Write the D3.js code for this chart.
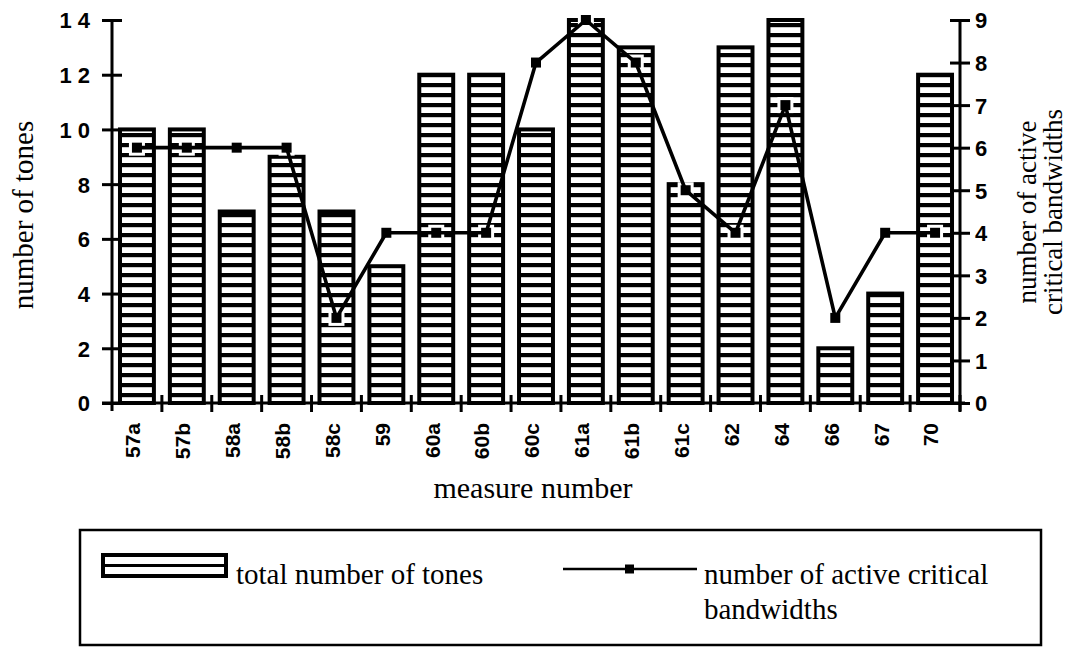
<!DOCTYPE html>
<html>
<head>
<meta charset="utf-8">
<script src="https://cdn.jsdelivr.net/npm/d3@7"></script>
<style>
  html, body { margin: 0; padding: 0; background: #fff; }
  svg { display: block; }
</style>
</head>
<body>
<svg id="chart" width="1076" height="647"></svg>
<script>
// measures and their counts
const measures = ["57a","57b","58a","58b","58c","59","60a","60b","60c","61a","61b","61c","62","64","66","67","70"];
const totalTones = [10,10,7,9,7,5,12,12,10,14,13,8,13,14,2,4,12];
const activeBands = [6,6,6,6,2,4,4,4,8,9,8,5,4,7,2,4,4];
const leftTicks = [0,2,4,6,8,10,12,14];
const rightTicks = [0,1,2,3,4,5,6,7,8,9];

const svg = d3.select("#chart");
const serif = "'Liberation Serif', 'Times New Roman', serif";
const sans = "'Liberation Sans', Arial, sans-serif";

const plot = { left: 112, right: 960, top: 20, bottom: 403 };

const x = d3.scaleBand().domain(measures).range([plot.left, plot.right]).paddingInner(0.32).paddingOuter(0.16);
const xb = d3.scaleBand().domain(measures).range([plot.left, plot.right]);
const yL = d3.scaleLinear().domain([0, 14]).range([plot.bottom, plot.top]);
const yR = d3.scaleLinear().domain([0, 9]).range([plot.bottom, plot.top]);

// horizontal stripe fill for the bars
const defs = svg.append("defs");
const pat = defs.append("pattern")
  .attr("id", "stripes")
  .attr("patternUnits", "userSpaceOnUse")
  .attr("width", 10).attr("height", 10)
  .attr("patternTransform", `translate(0,${plot.bottom})`);
pat.append("rect").attr("width", 10).attr("height", 10).attr("fill", "#fff");
pat.append("rect").attr("y", 0).attr("width", 10).attr("height", 4.2).attr("fill", "#000");

// bars
svg.append("g").selectAll("rect").data(measures).join("rect")
  .attr("x", d => x(d))
  .attr("width", x.bandwidth())
  .attr("y", (d, i) => yL(totalTones[i]))
  .attr("height", (d, i) => plot.bottom - yL(totalTones[i]))
  .attr("fill", "url(#stripes)")
  .attr("stroke", "#000")
  .attr("stroke-width", 4);

// critical-band line
const pts = measures.map((d, i) => [xb(d) + xb.bandwidth() / 2, yR(activeBands[i])]);

svg.append("g").selectAll("rect").data(pts).join("rect")
  .attr("x", p => p[0] - 8).attr("y", p => p[1] - 8)
  .attr("width", 16).attr("height", 16)
  .attr("fill", "#fff");

svg.append("path")
  .attr("d", d3.line()(pts))
  .attr("fill", "none")
  .attr("stroke", "#000")
  .attr("stroke-width", 3.6)
  .attr("stroke-linejoin", "round");

svg.append("g").selectAll("rect").data(pts).join("rect")
  .attr("x", p => p[0] - 5).attr("y", p => p[1] - 5)
  .attr("width", 10).attr("height", 10)
  .attr("fill", "#000");

// axes
const axisStroke = 3;
const leftAxis = d3.axisLeft(yL).tickValues(leftTicks).tickSizeOuter(0).tickPadding(0)
  .tickFormat(d => d >= 10 ? String(d).split("").join(" ") : d);
const gL = svg.append("g").attr("transform", `translate(${plot.left},0)`).call(leftAxis);
gL.select(".domain").remove();
gL.selectAll(".tick line").attr("x1", -10).attr("x2", 10).attr("stroke-width", axisStroke);
gL.selectAll(".tick text").attr("x", -22).attr("dy", "0.36em")
  .attr("font-family", sans).attr("font-weight", "bold").attr("font-size", 22).attr("fill", "#000");
gL.append("line").attr("x1", 0).attr("x2", 0).attr("y1", plot.top).attr("y2", plot.bottom + 8)
  .attr("stroke", "#000").attr("stroke-width", axisStroke);

const rightAxis = d3.axisRight(yR).tickValues(rightTicks).tickSizeOuter(0).tickPadding(0);
const gR = svg.append("g").attr("transform", `translate(${plot.right},0)`).call(rightAxis);
gR.select(".domain").remove();
gR.selectAll(".tick line").attr("x1", -10).attr("x2", 10).attr("stroke-width", axisStroke);
gR.selectAll(".tick text").attr("x", 15).attr("dy", "0.36em")
  .attr("font-family", sans).attr("font-weight", "bold").attr("font-size", 22).attr("fill", "#000");
gR.append("line").attr("x1", 0).attr("x2", 0).attr("y1", plot.top).attr("y2", plot.bottom + 8)
  .attr("stroke", "#000").attr("stroke-width", axisStroke);

const bottomAxis = d3.axisBottom(xb).tickSize(0).tickPadding(0);
const gB = svg.append("g").attr("transform", `translate(0,${plot.bottom})`).call(bottomAxis);
gB.select(".domain").remove();
gB.append("line").attr("x1", plot.left - 10).attr("x2", plot.right + 5).attr("y1", 0).attr("y2", 0)
  .attr("stroke", "#000").attr("stroke-width", axisStroke);
gB.selectAll(".tick text")
  .attr("transform", "rotate(-90)")
  .attr("x", -20).attr("y", -4).attr("dy", "0.35em")
  .attr("text-anchor", "end")
  .attr("font-family", sans).attr("font-weight", "bold").attr("font-size", 21).attr("fill", "#000");
// separator ticks between measures
gB.append("g").selectAll("line").data(measures.slice(1).concat(["_end"])).join("line")
  .attr("x1", (d, i) => plot.left + (i + 1) * xb.step())
  .attr("x2", (d, i) => plot.left + (i + 1) * xb.step())
  .attr("y1", -8).attr("y2", 9)
  .attr("stroke", "#000").attr("stroke-width", axisStroke);

// axis titles
svg.append("text")
  .attr("transform", `translate(33,215) rotate(-90)`)
  .attr("text-anchor", "middle")
  .attr("font-family", serif).attr("font-size", 29)
  .text("number of tones");

svg.append("text")
  .attr("x", 533).attr("y", 498)
  .attr("text-anchor", "middle")
  .attr("font-family", serif).attr("font-size", 30)
  .text("measure number");

const rt = svg.append("text")
  .attr("transform", `translate(1036,212) rotate(-90)`)
  .attr("text-anchor", "middle")
  .attr("font-family", serif).attr("font-size", 27);
rt.append("tspan").attr("x", 0).attr("dy", 0).text("number of active");
rt.append("tspan").attr("x", 0).attr("dy", 26).text("critical bandwidths");

// legend
const leg = svg.append("g");
leg.append("rect")
  .attr("x", 80).attr("y", 530).attr("width", 961).attr("height", 115)
  .attr("fill", "none").attr("stroke", "#000").attr("stroke-width", 2.5);

leg.append("rect")
  .attr("x", 103).attr("y", 555).attr("width", 123).attr("height", 21)
  .attr("fill", "#fff").attr("stroke", "#000").attr("stroke-width", 4);
leg.append("line")
  .attr("x1", 103).attr("x2", 226).attr("y1", 565.5).attr("y2", 565.5)
  .attr("stroke", "#000").attr("stroke-width", 3);
leg.append("text")
  .attr("x", 236).attr("y", 584)
  .attr("font-family", serif).attr("font-size", 29)
  .text("total number of tones");

leg.append("line")
  .attr("x1", 563).attr("x2", 697).attr("y1", 569).attr("y2", 569)
  .attr("stroke", "#000").attr("stroke-width", 2.5);
leg.append("rect")
  .attr("x", 625).attr("y", 564.5).attr("width", 9).attr("height", 9)
  .attr("fill", "#000");
const lt = leg.append("text")
  .attr("x", 704).attr("y", 584)
  .attr("font-family", serif).attr("font-size", 29);
lt.append("tspan").attr("x", 704).attr("dy", 0).text("number of active critical");
lt.append("tspan").attr("x", 704).attr("dy", 35).text("bandwidths");
</script>
</body>
</html>
